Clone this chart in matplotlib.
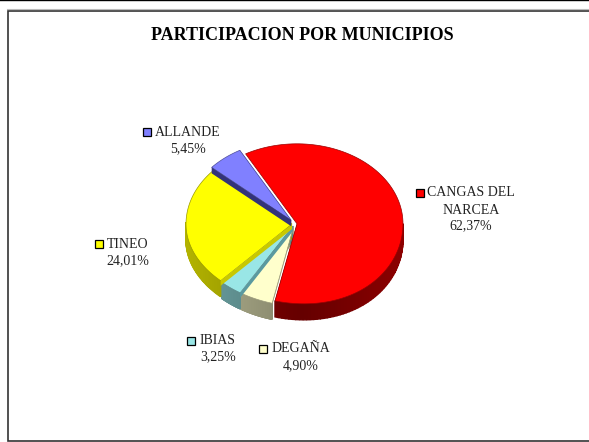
import matplotlib
matplotlib.use("Agg")
import matplotlib.pyplot as plt
import numpy as np
from matplotlib.patches import Polygon, Rectangle

plt.rcParams["font.family"] = ["Liberation Serif", "DejaVu Serif"]

# clockwise from the top, as in the chart
names = ["CANGAS DEL\nNARCEA", "DEGAÑA", "IBIAS", "TINEO", "ALLANDE"]
values = [62.37, 4.90, 3.25, 24.01, 5.45]
pct_labels = ["62,37%", "4,90%", "3,25%", "24,01%", "5,45%"]
colors = ["#ff0000", "#ffffcc", "#99e6e6", "#ffff00", "#8080ff"]
explode = [2, 3, 3, 3, 6]
strip_h = [0, 2, 5, 5, 6]
strip_colors = ["#8c0000", "#a09c70", "#5a9aa0", "#c8c800", "#33337a"]
label_xy = [(471, 208), (301, 358), (218, 349), (128, 253), (188, 141)]
key_x = [420, 263, 191, 99, 147]
key_y = [193, 349, 341, 244, 132]
title = "PARTICIPACION POR MUNICIPIOS"

cx, cy, rx, ry, depth = 295, 224, 106, 80, 16
start = 119
lean = 7  # front of the pie leans right, as with the 3D perspective

fig = plt.figure(figsize=(5.89, 4.42), dpi=100)
ax = fig.add_axes([0, 0, 1, 1])
ax.set_xlim(0, 589)
ax.set_ylim(442, 0)
ax.axis("off")

# frame: the right side has no line
ax.plot([589, 7.5, 7.5, 589], [10.5, 10.5, 441, 441], color="#333333", lw=1.2, solid_joinstyle="miter")
ax.plot([7, 589], [9, 9], color="#bbbbbb", lw=0.8)
ax.plot([0, 589], [0.3, 0.3], color="black", lw=1)
ax.text(302, 35, title, ha="center", va="center", fontsize=13, fontweight="bold", color="black")

total = sum(values)
spans = []
a = start
for v in values:
    spans.append((a, a - v / total * 360))
    a = spans[-1][1]


def shade(c, f):
    return tuple(x * f for x in matplotlib.colors.to_rgb(c))


def draw_slice(i):
    a0, a1 = spans[i]
    mid = np.radians((a0 + a1) / 2)
    x0 = cx + explode[i] * np.cos(mid)
    y0 = cy - explode[i] * np.sin(mid) * 0.8
    t = np.radians(np.linspace(a0, a1, 120))
    ys = y0 - ry * np.sin(t)
    xs = x0 + rx * np.cos(t) + lean * (np.clip(ys - cy, 0, None) / ry) ** 2
    dark = 0.55 if i == 0 else 0.7

    # flat wall along the clockwise-end cut
    ax.add_patch(Polygon([(x0, y0), (xs[-1], ys[-1]), (xs[-1], ys[-1] + depth), (x0, y0 + depth)],
                         fc=shade(colors[i], dark * 0.85), ec="none", zorder=2 + i * 0.1))
    # rim, darker towards the front
    for k in range(len(t) - 1):
        if np.sin(t[k]) > 0.02:
            continue
        f = dark * (0.72 + 0.28 * abs(np.cos(t[k])))
        ax.add_patch(Polygon([(xs[k], ys[k]), (xs[k + 1], ys[k + 1]),
                              (xs[k + 1], ys[k + 1] + depth), (xs[k], ys[k] + depth)],
                             fc=shade(colors[i], f), ec=shade(colors[i], f), lw=1.0,
                             zorder=2 + i * 0.1))
    # top face
    ax.add_patch(Polygon(np.column_stack([np.r_[x0, xs], np.r_[y0, ys]]),
                         fc=colors[i], ec=shade(colors[i], 0.6), lw=0.5, zorder=3 + i * 0.1))
    # dark strip showing the wall of the other cut
    if strip_h[i]:
        h = strip_h[i]
        ax.add_patch(Polygon([(x0, y0), (xs[0], ys[0]), (xs[0], ys[0] + h), (x0, y0 + h)],
                             fc=strip_colors[i], ec="none", zorder=4 + i * 0.1))


for i in [4, 0, 3, 2, 1]:
    draw_slice(i)

# Data labels with their small keys
for i in range(len(names)):
    ax.add_patch(Rectangle((key_x[i] - 4, key_y[i] - 4), 8, 8, fc=colors[i], ec="black", lw=0.9, zorder=6))
    first = names[i].split("\n")
    lx, ly = label_xy[i]
    if len(first) == 2:
        ax.text(lx, ly - 15, first[0], ha="center", va="center", fontsize=10, color="#222222")
        ax.text(lx, ly + 2, first[1], ha="center", va="center", fontsize=10, color="#222222")
        ax.text(lx, ly + 18, pct_labels[i], ha="center", va="center", fontsize=10, color="#222222")
    else:
        ax.text(lx, ly - 9, first[0], ha="center", va="center", fontsize=10, color="#222222")
        ax.text(lx, ly + 8, pct_labels[i], ha="center", va="center", fontsize=10, color="#222222")

fig.savefig("out.png", dpi=100)
plt.close(fig)
